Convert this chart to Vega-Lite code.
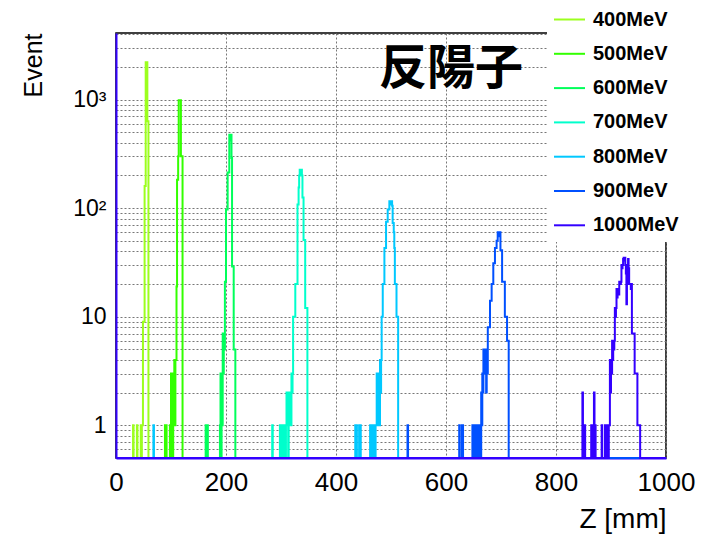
{
  "$schema": "https://vega.github.io/schema/vega-lite/v6.json",
  "width": 550,
  "height": 425,
  "autosize": {"type": "none"},
  "padding": {"left": 116, "top": 33, "right": 38, "bottom": 76},
  "background": "white",
  "config": {
    "view": {"stroke": "black", "strokeWidth": 1.5},
    "font": "Liberation Sans"
  },
  "title": {
    "text": "反陽子",
    "anchor": "start",
    "frame": "group",
    "orient": "top",
    "dx": 263,
    "offset": -97,
    "baseline": "top",
    "font": "Noto Sans CJK JP",
    "fontSize": 48,
    "fontWeight": "bold",
    "color": "black"
  },
  "data": {
    "values": [
      {"e":"400MeV","z":0,"n":0},{"e":"400MeV","z":31,"n":1},{"e":"400MeV","z":32,"n":0},{"e":"400MeV","z":38,"n":1},{"e":"400MeV","z":39,"n":0},{"e":"400MeV","z":45,"n":1},{"e":"400MeV","z":46,"n":0},{"e":"400MeV","z":47,"n":1},{"e":"400MeV","z":48,"n":1},{"e":"400MeV","z":49,"n":9},{"e":"400MeV","z":50,"n":9},{"e":"400MeV","z":51,"n":9},{"e":"400MeV","z":52,"n":160},{"e":"400MeV","z":53,"n":160},{"e":"400MeV","z":54,"n":2200},{"e":"400MeV","z":55,"n":2200},{"e":"400MeV","z":56,"n":2200},{"e":"400MeV","z":57,"n":630},{"e":"400MeV","z":58,"n":630},{"e":"400MeV","z":59,"n":0},{"e":"400MeV","z":1000,"n":0},

      {"e":"500MeV","z":0,"n":0},{"e":"500MeV","z":89,"n":1},{"e":"500MeV","z":90,"n":0},{"e":"500MeV","z":91,"n":1},{"e":"500MeV","z":92,"n":0},{"e":"500MeV","z":98,"n":1},{"e":"500MeV","z":99,"n":0},{"e":"500MeV","z":100,"n":3},{"e":"500MeV","z":101,"n":1},{"e":"500MeV","z":102,"n":3},{"e":"500MeV","z":103,"n":0},{"e":"500MeV","z":104,"n":3},{"e":"500MeV","z":105,"n":2},{"e":"500MeV","z":106,"n":4},{"e":"500MeV","z":107,"n":1},{"e":"500MeV","z":108,"n":4},{"e":"500MeV","z":109,"n":4},{"e":"500MeV","z":110,"n":19},{"e":"500MeV","z":111,"n":183},{"e":"500MeV","z":112,"n":183},{"e":"500MeV","z":113,"n":300},{"e":"500MeV","z":114,"n":985},{"e":"500MeV","z":115,"n":985},{"e":"500MeV","z":116,"n":985},{"e":"500MeV","z":117,"n":985},{"e":"500MeV","z":118,"n":300},{"e":"500MeV","z":119,"n":300},{"e":"500MeV","z":120,"n":300},{"e":"500MeV","z":121,"n":0},{"e":"500MeV","z":1000,"n":0},

      {"e":"600MeV","z":0,"n":0},{"e":"600MeV","z":163,"n":1},{"e":"600MeV","z":164,"n":0},{"e":"600MeV","z":165,"n":1},{"e":"600MeV","z":166,"n":1},{"e":"600MeV","z":167,"n":0},{"e":"600MeV","z":189,"n":1},{"e":"600MeV","z":190,"n":3},{"e":"600MeV","z":191,"n":0},{"e":"600MeV","z":192,"n":3},{"e":"600MeV","z":193,"n":1},{"e":"600MeV","z":194,"n":7},{"e":"600MeV","z":195,"n":3},{"e":"600MeV","z":196,"n":7},{"e":"600MeV","z":197,"n":5},{"e":"600MeV","z":198,"n":21},{"e":"600MeV","z":199,"n":21},{"e":"600MeV","z":200,"n":97},{"e":"600MeV","z":201,"n":97},{"e":"600MeV","z":202,"n":97},{"e":"600MeV","z":203,"n":213},{"e":"600MeV","z":204,"n":213},{"e":"600MeV","z":205,"n":213},{"e":"600MeV","z":206,"n":475},{"e":"600MeV","z":207,"n":475},{"e":"600MeV","z":208,"n":420},{"e":"600MeV","z":209,"n":475},{"e":"600MeV","z":210,"n":290},{"e":"600MeV","z":211,"n":29},{"e":"600MeV","z":212,"n":29},{"e":"600MeV","z":213,"n":29},{"e":"600MeV","z":214,"n":5},{"e":"600MeV","z":215,"n":5},{"e":"600MeV","z":216,"n":5},{"e":"600MeV","z":217,"n":0},{"e":"600MeV","z":1000,"n":0},

      {"e":"700MeV","z":0,"n":0},{"e":"700MeV","z":284,"n":1},{"e":"700MeV","z":285,"n":0},{"e":"700MeV","z":298,"n":1},{"e":"700MeV","z":299,"n":0},{"e":"700MeV","z":300,"n":1},{"e":"700MeV","z":301,"n":1},{"e":"700MeV","z":302,"n":0},{"e":"700MeV","z":303,"n":1},{"e":"700MeV","z":304,"n":1},{"e":"700MeV","z":305,"n":0},{"e":"700MeV","z":306,"n":1},{"e":"700MeV","z":307,"n":1},{"e":"700MeV","z":308,"n":0},{"e":"700MeV","z":309,"n":1},{"e":"700MeV","z":310,"n":2},{"e":"700MeV","z":311,"n":1},{"e":"700MeV","z":312,"n":2},{"e":"700MeV","z":313,"n":0},{"e":"700MeV","z":314,"n":2},{"e":"700MeV","z":315,"n":1},{"e":"700MeV","z":316,"n":2},{"e":"700MeV","z":317,"n":2},{"e":"700MeV","z":318,"n":1},{"e":"700MeV","z":319,"n":3},{"e":"700MeV","z":320,"n":2},{"e":"700MeV","z":321,"n":3},{"e":"700MeV","z":322,"n":10},{"e":"700MeV","z":323,"n":10},{"e":"700MeV","z":324,"n":10},{"e":"700MeV","z":325,"n":10},{"e":"700MeV","z":326,"n":20},{"e":"700MeV","z":327,"n":20},{"e":"700MeV","z":328,"n":20},{"e":"700MeV","z":329,"n":20},{"e":"700MeV","z":330,"n":108},{"e":"700MeV","z":331,"n":108},{"e":"700MeV","z":332,"n":155},{"e":"700MeV","z":333,"n":200},{"e":"700MeV","z":334,"n":226},{"e":"700MeV","z":335,"n":226},{"e":"700MeV","z":336,"n":200},{"e":"700MeV","z":337,"n":226},{"e":"700MeV","z":338,"n":200},{"e":"700MeV","z":339,"n":125},{"e":"700MeV","z":340,"n":125},{"e":"700MeV","z":341,"n":51},{"e":"700MeV","z":342,"n":51},{"e":"700MeV","z":343,"n":51},{"e":"700MeV","z":344,"n":12},{"e":"700MeV","z":345,"n":12},{"e":"700MeV","z":346,"n":12},{"e":"700MeV","z":347,"n":12},{"e":"700MeV","z":348,"n":0},{"e":"700MeV","z":1000,"n":0},

      {"e":"800MeV","z":0,"n":0},{"e":"800MeV","z":68,"n":1},{"e":"800MeV","z":69,"n":0},{"e":"800MeV","z":435,"n":1},{"e":"800MeV","z":436,"n":0},{"e":"800MeV","z":437,"n":1},{"e":"800MeV","z":438,"n":0},{"e":"800MeV","z":442,"n":1},{"e":"800MeV","z":443,"n":0},{"e":"800MeV","z":444,"n":1},{"e":"800MeV","z":445,"n":0},{"e":"800MeV","z":462,"n":1},{"e":"800MeV","z":463,"n":0},{"e":"800MeV","z":464,"n":1},{"e":"800MeV","z":465,"n":1},{"e":"800MeV","z":466,"n":0},{"e":"800MeV","z":467,"n":1},{"e":"800MeV","z":468,"n":0},{"e":"800MeV","z":469,"n":1},{"e":"800MeV","z":470,"n":1},{"e":"800MeV","z":471,"n":0},{"e":"800MeV","z":472,"n":1},{"e":"800MeV","z":473,"n":1},{"e":"800MeV","z":474,"n":3},{"e":"800MeV","z":475,"n":1},{"e":"800MeV","z":476,"n":3},{"e":"800MeV","z":477,"n":2},{"e":"800MeV","z":478,"n":3},{"e":"800MeV","z":479,"n":1},{"e":"800MeV","z":480,"n":4},{"e":"800MeV","z":481,"n":2},{"e":"800MeV","z":482,"n":4},{"e":"800MeV","z":483,"n":10},{"e":"800MeV","z":484,"n":10},{"e":"800MeV","z":485,"n":20},{"e":"800MeV","z":486,"n":20},{"e":"800MeV","z":487,"n":20},{"e":"800MeV","z":488,"n":43},{"e":"800MeV","z":489,"n":43},{"e":"800MeV","z":490,"n":43},{"e":"800MeV","z":491,"n":75},{"e":"800MeV","z":492,"n":75},{"e":"800MeV","z":493,"n":75},{"e":"800MeV","z":494,"n":97},{"e":"800MeV","z":495,"n":97},{"e":"800MeV","z":496,"n":97},{"e":"800MeV","z":497,"n":116},{"e":"800MeV","z":498,"n":108},{"e":"800MeV","z":499,"n":116},{"e":"800MeV","z":500,"n":110},{"e":"800MeV","z":501,"n":116},{"e":"800MeV","z":502,"n":105},{"e":"800MeV","z":503,"n":73},{"e":"800MeV","z":504,"n":73},{"e":"800MeV","z":505,"n":60},{"e":"800MeV","z":506,"n":43},{"e":"800MeV","z":507,"n":20},{"e":"800MeV","z":508,"n":20},{"e":"800MeV","z":509,"n":20},{"e":"800MeV","z":510,"n":10},{"e":"800MeV","z":511,"n":10},{"e":"800MeV","z":512,"n":10},{"e":"800MeV","z":513,"n":0},{"e":"800MeV","z":1000,"n":0},

      {"e":"900MeV","z":0,"n":0},{"e":"900MeV","z":530,"n":1},{"e":"900MeV","z":531,"n":0},{"e":"900MeV","z":624,"n":1},{"e":"900MeV","z":625,"n":0},{"e":"900MeV","z":629,"n":1},{"e":"900MeV","z":630,"n":1},{"e":"900MeV","z":631,"n":0},{"e":"900MeV","z":648,"n":1},{"e":"900MeV","z":649,"n":0},{"e":"900MeV","z":650,"n":1},{"e":"900MeV","z":651,"n":1},{"e":"900MeV","z":652,"n":0},{"e":"900MeV","z":653,"n":1},{"e":"900MeV","z":654,"n":0},{"e":"900MeV","z":655,"n":1},{"e":"900MeV","z":656,"n":1},{"e":"900MeV","z":657,"n":0},{"e":"900MeV","z":658,"n":1},{"e":"900MeV","z":659,"n":1},{"e":"900MeV","z":660,"n":0},{"e":"900MeV","z":661,"n":1},{"e":"900MeV","z":662,"n":1},{"e":"900MeV","z":663,"n":0},{"e":"900MeV","z":664,"n":2},{"e":"900MeV","z":665,"n":1},{"e":"900MeV","z":666,"n":3},{"e":"900MeV","z":667,"n":2},{"e":"900MeV","z":668,"n":5},{"e":"900MeV","z":669,"n":3},{"e":"900MeV","z":670,"n":5},{"e":"900MeV","z":671,"n":3},{"e":"900MeV","z":672,"n":5},{"e":"900MeV","z":673,"n":2},{"e":"900MeV","z":674,"n":5},{"e":"900MeV","z":675,"n":3},{"e":"900MeV","z":676,"n":8},{"e":"900MeV","z":677,"n":8},{"e":"900MeV","z":678,"n":8},{"e":"900MeV","z":679,"n":8},{"e":"900MeV","z":680,"n":14},{"e":"900MeV","z":681,"n":14},{"e":"900MeV","z":682,"n":14},{"e":"900MeV","z":683,"n":20},{"e":"900MeV","z":684,"n":20},{"e":"900MeV","z":685,"n":20},{"e":"900MeV","z":686,"n":31},{"e":"900MeV","z":687,"n":31},{"e":"900MeV","z":688,"n":31},{"e":"900MeV","z":689,"n":43},{"e":"900MeV","z":690,"n":43},{"e":"900MeV","z":691,"n":43},{"e":"900MeV","z":692,"n":50},{"e":"900MeV","z":693,"n":50},{"e":"900MeV","z":694,"n":60},{"e":"900MeV","z":695,"n":55},{"e":"900MeV","z":696,"n":60},{"e":"900MeV","z":697,"n":58},{"e":"900MeV","z":698,"n":60},{"e":"900MeV","z":699,"n":41},{"e":"900MeV","z":700,"n":41},{"e":"900MeV","z":701,"n":41},{"e":"900MeV","z":702,"n":21},{"e":"900MeV","z":703,"n":21},{"e":"900MeV","z":704,"n":21},{"e":"900MeV","z":705,"n":21},{"e":"900MeV","z":706,"n":21},{"e":"900MeV","z":707,"n":10},{"e":"900MeV","z":708,"n":10},{"e":"900MeV","z":709,"n":10},{"e":"900MeV","z":710,"n":10},{"e":"900MeV","z":711,"n":6},{"e":"900MeV","z":712,"n":6},{"e":"900MeV","z":713,"n":6},{"e":"900MeV","z":714,"n":0},{"e":"900MeV","z":1000,"n":0},

      {"e":"1000MeV","z":0,"n":0},{"e":"1000MeV","z":848,"n":2},{"e":"1000MeV","z":849,"n":1},{"e":"1000MeV","z":850,"n":0},{"e":"1000MeV","z":851,"n":1},{"e":"1000MeV","z":852,"n":1},{"e":"1000MeV","z":853,"n":0},{"e":"1000MeV","z":864,"n":1},{"e":"1000MeV","z":865,"n":0},{"e":"1000MeV","z":866,"n":1},{"e":"1000MeV","z":867,"n":0},{"e":"1000MeV","z":869,"n":2},{"e":"1000MeV","z":870,"n":0},{"e":"1000MeV","z":871,"n":1},{"e":"1000MeV","z":872,"n":0},{"e":"1000MeV","z":883,"n":1},{"e":"1000MeV","z":884,"n":0},{"e":"1000MeV","z":889,"n":1},{"e":"1000MeV","z":890,"n":0},{"e":"1000MeV","z":891,"n":1},{"e":"1000MeV","z":892,"n":1},{"e":"1000MeV","z":893,"n":0},{"e":"1000MeV","z":894,"n":1},{"e":"1000MeV","z":895,"n":0},{"e":"1000MeV","z":896,"n":1},{"e":"1000MeV","z":897,"n":1},{"e":"1000MeV","z":898,"n":4},{"e":"1000MeV","z":899,"n":2},{"e":"1000MeV","z":900,"n":4},{"e":"1000MeV","z":901,"n":3},{"e":"1000MeV","z":902,"n":6},{"e":"1000MeV","z":903,"n":4},{"e":"1000MeV","z":904,"n":6},{"e":"1000MeV","z":905,"n":5},{"e":"1000MeV","z":906,"n":6},{"e":"1000MeV","z":907,"n":12},{"e":"1000MeV","z":908,"n":10},{"e":"1000MeV","z":909,"n":12},{"e":"1000MeV","z":910,"n":18},{"e":"1000MeV","z":911,"n":15},{"e":"1000MeV","z":912,"n":18},{"e":"1000MeV","z":913,"n":18},{"e":"1000MeV","z":914,"n":16},{"e":"1000MeV","z":915,"n":21},{"e":"1000MeV","z":916,"n":21},{"e":"1000MeV","z":917,"n":20},{"e":"1000MeV","z":918,"n":21},{"e":"1000MeV","z":919,"n":30},{"e":"1000MeV","z":920,"n":28},{"e":"1000MeV","z":921,"n":30},{"e":"1000MeV","z":922,"n":34},{"e":"1000MeV","z":923,"n":35},{"e":"1000MeV","z":924,"n":33},{"e":"1000MeV","z":925,"n":35},{"e":"1000MeV","z":926,"n":30},{"e":"1000MeV","z":927,"n":25},{"e":"1000MeV","z":928,"n":13},{"e":"1000MeV","z":929,"n":20},{"e":"1000MeV","z":930,"n":30},{"e":"1000MeV","z":931,"n":34},{"e":"1000MeV","z":932,"n":28},{"e":"1000MeV","z":933,"n":20},{"e":"1000MeV","z":934,"n":20},{"e":"1000MeV","z":935,"n":20},{"e":"1000MeV","z":936,"n":18},{"e":"1000MeV","z":937,"n":20},{"e":"1000MeV","z":938,"n":7},{"e":"1000MeV","z":939,"n":7},{"e":"1000MeV","z":940,"n":7},{"e":"1000MeV","z":941,"n":7},{"e":"1000MeV","z":942,"n":7},{"e":"1000MeV","z":943,"n":3},{"e":"1000MeV","z":944,"n":3},{"e":"1000MeV","z":945,"n":3},{"e":"1000MeV","z":946,"n":3},{"e":"1000MeV","z":947,"n":3},{"e":"1000MeV","z":948,"n":1},{"e":"1000MeV","z":949,"n":1},{"e":"1000MeV","z":950,"n":1},{"e":"1000MeV","z":951,"n":1},{"e":"1000MeV","z":952,"n":1},{"e":"1000MeV","z":953,"n":0},{"e":"1000MeV","z":1000,"n":0}
    ]
  },
  "mark": {"type": "line", "interpolate": "step-after", "strokeWidth": 2},
  "encoding": {
    "x": {
      "field": "z",
      "type": "quantitative",
      "scale": {"domain": [0, 1000], "nice": false, "zero": false},
      "axis": {
        "title": "Z [mm]",
        "values": [0, 200, 400, 600, 800, 1000],
        "format": "d",
        "ticks": false,
        "domainColor": "#3300ff",
        "domainWidth": 2,
        "grid": true,
        "gridColor": "#777777",
        "gridDash": [2, 2],
        "gridWidth": 1,
        "labelFont": "Liberation Sans",
        "labelFontSize": 26,
        "labelColor": "black",
        "labelPadding": 11,
        "labelBaseline": "top",
        "labelFlush": false,
        "labelOverlap": false,
        "titleFont": "Liberation Sans",
        "titleFontSize": 28,
        "titleFontWeight": "normal",
        "titleColor": "black",
        "titleAnchor": "end",
        "titleAlign": "right",
        "titleBaseline": "middle",
        "titleX": 550,
        "titleY": 61
      }
    },
    "y": {
      "field": "n",
      "type": "quantitative",
      "scale": {"type": "log", "domain": [0.5, 4100], "nice": false, "clamp": true},
      "axis": {
        "title": "Event",
        "values": [0.5,0.6,0.7,0.8,0.9,1,2,3,4,5,6,7,8,9,10,20,30,40,50,60,70,80,90,100,200,300,400,500,600,700,800,900,1000,2000,3000,4000],
        "labelExpr": "datum.value == 1000 ? '10³' : datum.value == 100 ? '10²' : datum.value == 10 ? '10' : datum.value == 1 ? '1' : ''",
        "ticks": false,
        "domainColor": "#3300ff",
        "domainWidth": 2,
        "grid": true,
        "gridColor": "#777777",
        "gridDash": [2, 2],
        "gridWidth": 1,
        "labelFont": "Liberation Sans",
        "labelFontSize": 23,
        "labelColor": "black",
        "labelPadding": 10,
        "labelBaseline": "middle",
        "labelFlush": false,
        "labelOverlap": false,
        "titleFont": "Liberation Sans",
        "titleFontSize": 25,
        "titleFontWeight": "normal",
        "titleColor": "black",
        "titleAngle": 270,
        "titleAlign": "right",
        "titleBaseline": "middle",
        "titleX": -83,
        "titleY": 0
      }
    },
    "color": {
      "field": "e",
      "type": "nominal",
      "scale": {
        "domain": ["400MeV","500MeV","600MeV","700MeV","800MeV","900MeV","1000MeV"],
        "range": ["#9cff1e","#33ff00","#00ff5a","#00ffcc","#00c8ff","#0050ff","#3300ff"]
      },
      "legend": {
        "title": null,
        "orient": "none",
        "legendX": 431,
        "legendY": -36,
        "fillColor": "white",
        "padding": 6,
        "symbolType": "stroke",
        "symbolSize": 961,
        "symbolStrokeWidth": 2,
        "labelFont": "Liberation Sans",
        "labelFontSize": 20,
        "labelFontWeight": "bold",
        "labelColor": "black",
        "labelOffset": 7,
        "rowPadding": 7.3,
        "labelLimit": 200
      }
    }
  }
}
